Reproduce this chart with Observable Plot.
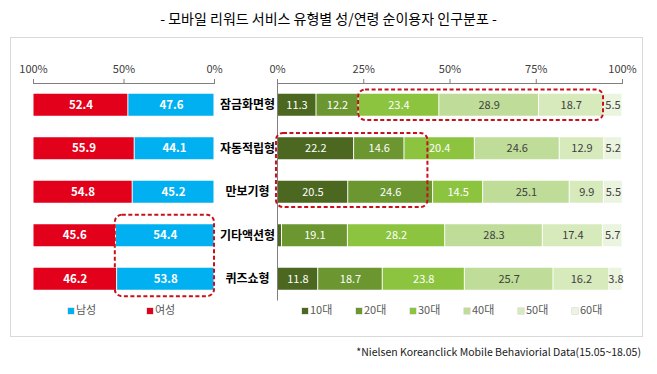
<!DOCTYPE html>
<html><head><meta charset="utf-8">
<script src="https://cdn.jsdelivr.net/npm/d3@7"></script>
<script src="https://cdn.jsdelivr.net/npm/@observablehq/plot@0.6"></script>
<style>
body{margin:0;background:#fff;font-family:"Noto Sans CJK KR","Noto Sans",sans-serif;}
#wrap{position:relative;width:657px;height:374px;overflow:hidden;background:#fff;}
#title{position:absolute;left:0;width:657px;top:8px;text-align:center;font-size:14px;line-height:20px;color:#000;}
#box{position:absolute;left:10px;top:37px;width:633px;height:300px;border:1px solid #d9d9d9;box-sizing:border-box;}
.chart{position:absolute;left:0;top:0;}
#caption{position:absolute;right:16px;top:344px;font-size:10.5px;line-height:16px;color:#1a1a1a;}
.lg{position:absolute;top:302px;font-size:11px;line-height:14px;color:#595959;white-space:nowrap;}
.sw{display:inline-block;width:6px;height:6px;margin-right:2px;vertical-align:0px;box-shadow:0 0 0 0.5px #ccc;}
</style></head><body>
<div id="wrap">
  <div id="title">- 모바일 리워드 서비스 유형별 성/연령 순이용자 인구분포 -</div>
  <div id="box"></div>
  <div id="caption">*Nielsen Koreanclick Mobile Behaviorial Data(15.05~18.05)</div>
</div>
<script>
// ---- data ----
const categories = ["잠금화면형","자동적립형","만보기형","기타액션형","퀴즈쇼형"];
const genders = ["남성","여성"];
const maleShare = [47.6,44.1,45.2,54.4,53.8];
const femaleShare = [52.4,55.9,54.8,45.6,46.2];
const ageGroups = ["10대","20대","30대","40대","50대","60대"];
const age10 = [11.3,22.2,20.5,1.3,11.8];
const age20 = [12.2,14.6,24.6,19.1,18.7];
const age30 = [23.4,20.4,14.5,28.2,23.8];
const age40 = [28.9,24.6,25.1,28.3,25.7];
const age50 = [18.7,12.9,9.9,17.4,16.2];
const age60 = [5.5,5.2,5.5,5.7,3.8];
const genderTicks = [100,50,0];
const ageTicks = [0,25,50,75,100];
const genderHighlight = {rows:["기타액션형","퀴즈쇼형"], group:"남성"};
const ageHighlights = [
  {rows:["잠금화면형"], from:"30대", to:"50대"},
  {rows:["자동적립형","만보기형"], from:"10대", to:"20대"}
];

// ---- styles ----
const genderColors = {"남성":"#00B0F0","여성":"#E2001A"};
const ageColors = ["#4B6720","#6B9630","#8CC43F","#BFDD98","#D6EABC","#EBF4DF"];
const ageText = ["#fff","#fff","#fff","#404040","#404040","#404040"];
const W = 657, H = 374, MT = 83, MB = 73.5;
const yDomain = [-0.5, categories.length - 0.5];
const half = 0.253;
const font = '"Noto Sans CJK KR","Noto Sans",sans-serif';

// ---- derived tables ----
const genderRows = [];
categories.forEach((c,i)=>{
  genderRows.push({cat:c, i, g:"남성", v:maleShare[i], x1:0, x2:maleShare[i]});
  genderRows.push({cat:c, i, g:"여성", v:femaleShare[i], x1:maleShare[i], x2:maleShare[i]+femaleShare[i]});
});
const ageSeries = [age10,age20,age30,age40,age50,age60];
const ageRows = [];
categories.forEach((c,i)=>{
  let acc = 0;
  ageSeries.forEach((s,k)=>{
    ageRows.push({cat:c, i, k, g:ageGroups[k], v:s[i], x1:acc, x2:acc+s[i]});
    acc += s[i];
  });
});
const gIdx = genderHighlight.rows.map(r=>categories.indexOf(r));
const gBox = [{
  x1: 0,
  x2: d3.max(genderRows.filter(d=>gIdx.includes(d.i) && d.g===genderHighlight.group), d=>d.x2) + 0.4,
  y1: d3.min(gIdx) - 0.47, y2: d3.max(gIdx) + 0.4
}];
const aBoxes = ageHighlights.map(h=>{
  const idx = h.rows.map(r=>categories.indexOf(r));
  const k0 = ageGroups.indexOf(h.from), k1 = ageGroups.indexOf(h.to);
  const segs = ageRows.filter(d=>idx.includes(d.i) && d.k>=k0 && d.k<=k1);
  return {x1: d3.min(segs,d=>d.x1) - (k0===0?0.3:0), x2: d3.max(segs,d=>d.x2) - (idx.length>1?1.5:0),
          y1: d3.min(idx)-0.35, y2: d3.max(idx)+0.35};
});

const common = {
  width: W, height: H, marginTop: MT, marginBottom: MB,
  y: {domain: yDomain, reverse: true, axis: null},
  style: {background:"transparent", fontFamily: font, fontSize:"11px", overflow:"visible"}
};

const left = Plot.plot({
  ...common,
  marginLeft: 33, marginRight: W - 214,
  x: {domain:[0,100], reverse:true, axis:null},
  marks: [
    Plot.axisX(genderTicks, {anchor:"top", tickSize:5, tickPadding:6, tickFormat:d=>d+"%", stroke:"#7f7f7f", fill:"#404040", label:null, fontSize:11}),
    Plot.ruleY([yDomain[0]], {stroke:"#7f7f7f"}),
    Plot.rect(genderRows, {x1:"x1", x2:"x2", y1:d=>d.i-half, y2:d=>d.i+half, fill:d=>genderColors[d.g], insetLeft:0.5, insetRight:0.5}),
    Plot.text(genderRows, {x:d=>(d.x1+d.x2)/2, y:"i", text:d=>d.v.toFixed(1), fill:"#fff", fontWeight:"bold", fontSize:11.5}),
    Plot.text(categories, {y:(d,i)=>i, frameAnchor:"right", dx:33, text:d=>d, fill:"#000", fontWeight:"bold", fontSize:12, textAnchor:"middle"}),
    Plot.rect(gBox, {x1:"x1", x2:"x2", y1:"y1", y2:"y2", fill:"none", stroke:"#C8101A", strokeWidth:2, strokeDasharray:"4,2.5", rx:7})
  ]
});

const right = Plot.plot({
  ...common,
  marginLeft: 277, marginRight: W - 622,
  x: {domain:[0,100], axis:null},
  marks: [
    Plot.axisX(ageTicks, {anchor:"top", tickSize:5, tickPadding:6, tickFormat:d=>d+"%", stroke:"#7f7f7f", fill:"#404040", label:null, fontSize:11}),
    Plot.ruleY([yDomain[0]], {stroke:"#7f7f7f"}),
    Plot.rect(ageRows, {x1:"x1", x2:"x2", y1:d=>d.i-half, y2:d=>d.i+half, fill:d=>ageColors[d.k], insetLeft:0.5, insetRight:0.5}),
    Plot.ruleX([0], {stroke:"#7f7f7f"}),
    Plot.text(ageRows.filter(d=>d.v>=2), {x:d=>(d.x1+d.x2)/2, y:"i", text:d=>d.v.toFixed(1), fill:d=>ageText[d.k], fontSize:11}),
    Plot.rect(aBoxes, {x1:"x1", x2:"x2", y1:"y1", y2:"y2", fill:"none", stroke:"#C8101A", strokeWidth:2, strokeDasharray:"4,2.5", rx:7})
  ]
});

const wrap = document.getElementById("wrap");
left.classList.add("chart"); right.classList.add("chart");
wrap.appendChild(left); wrap.appendChild(right);

// legends
function legendItem(label, color, x){
  const el = document.createElement("div");
  el.className = "lg";
  el.style.left = x + "px";
  const sw = document.createElement("span");
  sw.className = "sw"; sw.style.background = color;
  el.appendChild(sw);
  el.appendChild(document.createTextNode(label));
  wrap.appendChild(el);
}
genders.forEach((g,i)=>legendItem(g, genderColors[g], 68 + i*79));
ageGroups.forEach((g,i)=>legendItem(g, ageColors[i], 302 + i*54));
</script>
</body></html>
